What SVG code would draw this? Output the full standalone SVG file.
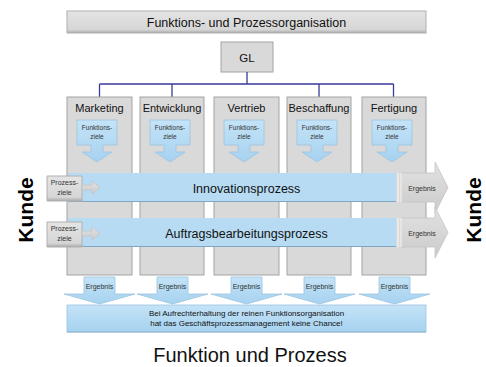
<svg xmlns="http://www.w3.org/2000/svg" xmlns:xlink="http://www.w3.org/1999/xlink" width="486" height="367" viewBox="0 0 486 367">
<defs>
<style>
text{font-family:"Liberation Sans",Arial,sans-serif;fill:#111;}
.col{fill:#d9d9d9;stroke:#a3a3a3;stroke-width:1;}
.bar{fill:url(#gGray);stroke:#b0b0b0;stroke-width:1;}
.blue{fill:url(#gBlue);stroke:#9cc4e0;stroke-width:0.8;}
.band{fill:#b6dbf3;}
.garrow{fill:url(#gGrayArrow);stroke:#c4c4c4;stroke-width:0.8;}
.con{stroke:#3a3a9a;stroke-width:1.3;fill:none;}
.lbl{font-size:11px;text-anchor:middle;}
.tiny{font-size:6.5px;text-anchor:middle;fill:#333;}
.small{font-size:7px;text-anchor:middle;fill:#333;}
.proc{font-size:12.5px;text-anchor:middle;}
.kunde{font-size:21px;font-weight:bold;text-anchor:middle;fill:#000;}
</style>
<linearGradient id="gGray" x1="0" y1="0" x2="0" y2="1">
<stop offset="0" stop-color="#e4e4e4"/><stop offset="0.85" stop-color="#d6d6d6"/><stop offset="1" stop-color="#a9a9a9"/>
</linearGradient>
<linearGradient id="gBlue" x1="0" y1="0" x2="0" y2="1">
<stop offset="0" stop-color="#c4e3f7"/><stop offset="1" stop-color="#a6d2f0"/>
</linearGradient>
<linearGradient id="gGrayArrow" x1="0" y1="0" x2="0" y2="1">
<stop offset="0" stop-color="#e2e2e2"/><stop offset="1" stop-color="#cbcbcb"/>
</linearGradient>
<path id="fz" d="M10,120 H50 V145 H36 V152 H45 L30,162 L15,152 H24 V145 H10 Z"/>
<path id="erg" d="M17,277 H48 V294 H68 L32.5,304 L-3,294 H17 Z"/>
<path id="pz" d="M47,0 H82 V25 H47 Z"/>
<path id="pzArrow" d="M82,9 H92 V5 L100,11.5 L92,18 V14 H82 Z"/>
<path id="ergArrow" d="M401,0 H435 V-11 L448,14.5 L435,40 V29 H401 Z"/>
</defs>

<g id="title">
<rect class="bar" x="67" y="11" width="359" height="22"/>
<text x="246.5" y="27" style="font-size:12.5px;text-anchor:middle;">Funktions- und Prozessorganisation</text>
</g>

<g id="gl">
<rect class="col" x="221" y="42" width="52" height="30"/>
<text x="247" y="62" style="font-size:11.5px;text-anchor:middle;">GL</text>
</g>

<g id="connectors">
<path class="con" d="M247,72 V84 M99.5,84 H393.5 M99.5,84 V97 M172,84 V97 M319,84 V97 M393.5,84 V97"/>
</g>

<g id="col-marketing">
<rect class="col" x="67" y="97" width="65" height="178"/>
<text class="lbl" x="99.5" y="111.5">Marketing</text>
<use xlink:href="#fz" x="67" class="blue"/>
<text class="tiny" x="97" y="130">Funktions-</text><text class="tiny" x="97" y="139">ziele</text>
</g>
<g id="col-entwicklung">
<rect class="col" x="140" y="97" width="64" height="178"/>
<text class="lbl" x="172" y="111.5">Entwicklung</text>
<use xlink:href="#fz" x="140" class="blue"/>
<text class="tiny" x="170" y="130">Funktions-</text><text class="tiny" x="170" y="139">ziele</text>
</g>
<g id="col-vertrieb">
<rect class="col" x="214" y="97" width="65" height="178"/>
<text class="lbl" x="246.5" y="111.5">Vertrieb</text>
<use xlink:href="#fz" x="214" class="blue"/>
<text class="tiny" x="244" y="130">Funktions-</text><text class="tiny" x="244" y="139">ziele</text>
</g>
<g id="col-beschaffung">
<rect class="col" x="287" y="97" width="64" height="178"/>
<text class="lbl" x="319" y="111.5">Beschaffung</text>
<use xlink:href="#fz" x="287" class="blue"/>
<text class="tiny" x="317" y="130">Funktions-</text><text class="tiny" x="317" y="139">ziele</text>
</g>
<g id="col-fertigung">
<rect class="col" x="362" y="97" width="64" height="178"/>
<text class="lbl" x="394" y="111.5">Fertigung</text>
<use xlink:href="#fz" x="362" class="blue"/>
<text class="tiny" x="392" y="130">Funktions-</text><text class="tiny" x="392" y="139">ziele</text>
</g>

<g id="innovationsprozess">
<rect class="band" x="68" y="173" width="328" height="29"/>
<line x1="68" y1="201.5" x2="396" y2="201.5" stroke="#7fa6c2" stroke-width="1"/>
<use xlink:href="#ergArrow" y="173" class="garrow"/>
<line x1="398" y1="173" x2="398" y2="202" stroke="#f4f4f4" stroke-width="1.2"/>
<line x1="401" y1="173" x2="401" y2="202" stroke="#f4f4f4" stroke-width="1.2"/>
<text class="proc" x="246.5" y="193">Innovationsprozess</text>
<text class="small" x="422" y="190.5">Ergebnis</text>
</g>
<g id="prozessziele-1">
<use xlink:href="#pz" y="176" class="bar"/>
<use xlink:href="#pzArrow" y="176" class="garrow"/>
<text class="small" x="64.5" y="185">Prozess-</text><text class="small" x="64.5" y="195">ziele</text>
</g>

<g id="auftragsbearbeitungsprozess">
<rect class="band" x="68" y="218" width="328" height="29"/>
<line x1="68" y1="246.5" x2="396" y2="246.5" stroke="#7fa6c2" stroke-width="1"/>
<use xlink:href="#ergArrow" y="218" class="garrow"/>
<line x1="398" y1="218" x2="398" y2="247" stroke="#f4f4f4" stroke-width="1.2"/>
<line x1="401" y1="218" x2="401" y2="247" stroke="#f4f4f4" stroke-width="1.2"/>
<text class="proc" x="246.5" y="238">Auftragsbearbeitungsprozess</text>
<text class="small" x="422" y="235.5">Ergebnis</text>
</g>
<g id="prozessziele-2">
<use xlink:href="#pz" y="222" class="bar"/>
<use xlink:href="#pzArrow" y="222" class="garrow"/>
<text class="small" x="64.5" y="231">Prozess-</text><text class="small" x="64.5" y="241">ziele</text>
</g>

<g id="ergebnis-marketing"><use xlink:href="#erg" x="67" class="blue"/><text class="small" x="99.5" y="289">Ergebnis</text></g>
<g id="ergebnis-entwicklung"><use xlink:href="#erg" x="140" class="blue"/><text class="small" x="172.5" y="289">Ergebnis</text></g>
<g id="ergebnis-vertrieb"><use xlink:href="#erg" x="214" class="blue"/><text class="small" x="246.5" y="289">Ergebnis</text></g>
<g id="ergebnis-beschaffung"><use xlink:href="#erg" x="287" class="blue"/><text class="small" x="319.5" y="289">Ergebnis</text></g>
<g id="ergebnis-fertigung"><use xlink:href="#erg" x="362" class="blue"/><text class="small" x="394.5" y="289">Ergebnis</text></g>

<g id="note">
<rect class="blue" x="67" y="305" width="359" height="27"/>
<line x1="67" y1="332" x2="426" y2="332" stroke="#8fb3cc" stroke-width="1.2"/>
<text x="246.5" y="316" style="font-size:8px;text-anchor:middle;">Bei Aufrechterhaltung der reinen Funktionsorganisation</text>
<text x="246.5" y="326" style="font-size:8px;text-anchor:middle;">hat das Geschäftsprozessmanagement keine Chance!</text>
</g>

<g id="kunde-links"><text class="kunde" transform="translate(33,210) rotate(-90)">Kunde</text></g>
<g id="kunde-rechts"><text class="kunde" transform="translate(481,210) rotate(-90)">Kunde</text></g>

<g id="caption"><text x="250" y="362" style="font-size:20px;text-anchor:middle;">Funktion und Prozess</text></g>
</svg>
